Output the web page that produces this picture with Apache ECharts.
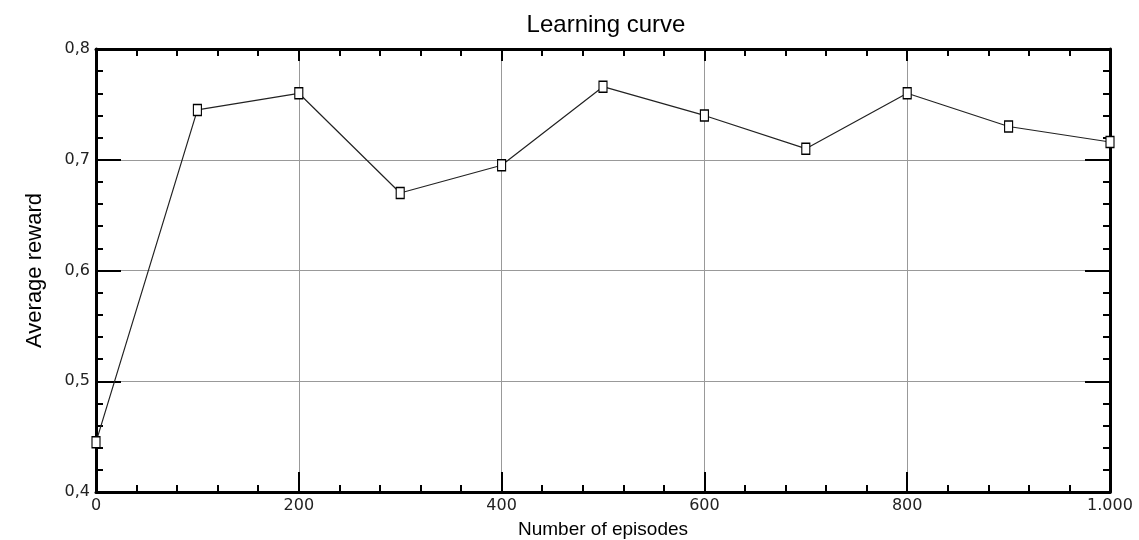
<!DOCTYPE html>
<html><head><meta charset="utf-8">
<script src="https://cdn.jsdelivr.net/npm/echarts@6/dist/echarts.min.js"></script>
<style>html,body{margin:0;padding:0;background:#fff}#c{width:1139px;height:540px}</style>
</head><body><div id="c"></div>
<script>
const episodes = [0, 100, 200, 300, 400, 500, 600, 700, 800, 900, 1000];
const rewards = [0.445, 0.745, 0.760, 0.670, 0.695, 0.766, 0.740, 0.710, 0.760, 0.730, 0.716];
const titleText = 'Learning curve';
const xName = 'Number of episodes';
const yName = 'Average reward';

const chart = echarts.init(document.getElementById('c'));
const fmtX = v => v >= 1000 ? String(v).replace(/\B(?=(\d{3})+(?!\d))/g, '.') : String(v);
const fmtY = v => v.toFixed(1).replace('.', ',');
const labelFont = {fontFamily: 'DejaVu Sans', fontSize: 16, color: '#222'};
const axisCommon = {
  axisLine: {show: true, onZero: false, lineStyle: {color: '#000', width: 3}},
  minorTick: {show: true, splitNumber: 5, length: 7, lineStyle: {color: '#000', width: 2}},
};
chart.setOption({
  animation: false,
  title: {text: titleText, left: 601, textAlign: 'center', top: 8,
    textStyle: {fontFamily: 'Liberation Sans', fontSize: 24, fontWeight: 'normal', color: '#000'}},
  grid: {left: 96, right: 29, top: 49, bottom: 48, containLabel: false, outerBoundsMode: 'none'},
  xAxis: [{
    type: 'value', min: 0, max: 1000, interval: 200, position: 'bottom',
    name: xName, nameLocation: 'middle', nameGap: 28,
    nameTextStyle: {fontFamily: 'Liberation Sans', fontSize: 19, color: '#000'},
    axisLabel: Object.assign({formatter: fmtX, margin: 6}, labelFont),
    axisTick: {show: true, inside: true, length: 20, lineStyle: {color: '#000', width: 2}},
    splitLine: {show: true, lineStyle: {color: '#999', width: 1}},
    ...axisCommon
  }, {
    type: 'value', min: 0, max: 1000, interval: 200, position: 'top',
    axisLabel: {show: false},
    axisTick: {show: true, inside: true, length: 12, lineStyle: {color: '#000', width: 2}},
    splitLine: {show: false},
    ...axisCommon
  }],
  yAxis: [{
    type: 'value', min: 0.4, max: 0.8, interval: 0.1, position: 'left',
    name: yName, nameLocation: 'middle', nameGap: 50, nameRotate: 90,
    nameTextStyle: {fontFamily: 'Liberation Sans', fontSize: 22, color: '#000'},
    axisLabel: Object.assign({formatter: fmtY, margin: 6}, labelFont),
    axisTick: {show: true, inside: true, length: 25, lineStyle: {color: '#000', width: 2}},
    splitLine: {show: true, lineStyle: {color: '#999', width: 1}},
    ...axisCommon
  }, {
    type: 'value', min: 0.4, max: 0.8, interval: 0.1, position: 'right',
    axisLabel: {show: false},
    axisTick: {show: true, inside: true, length: 25, lineStyle: {color: '#000', width: 2}},
    splitLine: {show: false},
    ...axisCommon
  }],
  series: [{
    type: 'line',
    data: episodes.map((e, i) => [e, rewards[i]]),
    symbol: 'rect', symbolSize: [8, 11],
    itemStyle: {color: '#fff', borderColor: '#000', borderWidth: 1.3},
    lineStyle: {color: '#222', width: 1.2},
    z: 5
  }]
});
</script></body></html>
